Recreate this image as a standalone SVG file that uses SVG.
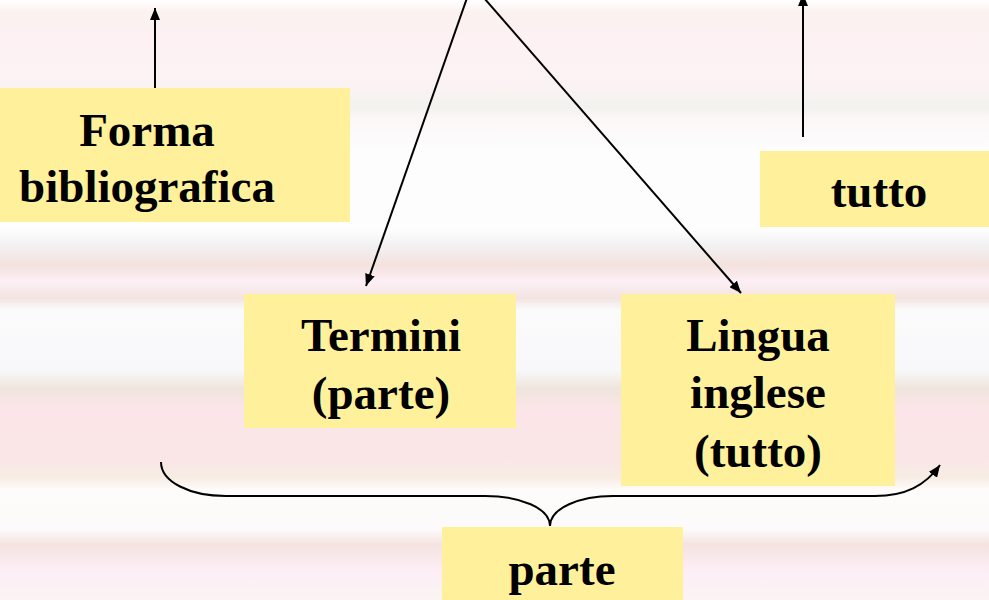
<svg xmlns="http://www.w3.org/2000/svg" width="989" height="600" viewBox="0 0 989 600">
  <style>
    .box { fill: #FFF19B; }
    .lbl { font-family: "Liberation Serif", "Times New Roman", serif; font-weight: bold; font-size: 47px; fill: #000; text-anchor: middle; }
    .edge { fill: none; stroke: #000; stroke-width: 2; }
  </style>
  <defs>
    <linearGradient id="bg" x1="0" y1="0" x2="0" y2="600" gradientUnits="userSpaceOnUse">
      <stop offset="0" stop-color="#FFFFFF"/>
      <stop offset="0.02" stop-color="#FBF2EF"/>
      <stop offset="0.067" stop-color="#FDF1F3"/>
      <stop offset="0.14" stop-color="#FBF3F3"/>
      <stop offset="0.18" stop-color="#F2F2EE"/>
      <stop offset="0.197" stop-color="#FBF7F7"/>
      <stop offset="0.25" stop-color="#FDFDFD"/>
      <stop offset="0.383" stop-color="#FDFDFD"/>
      <stop offset="0.408" stop-color="#F2F2F2"/>
      <stop offset="0.442" stop-color="#F4E2DE"/>
      <stop offset="0.47" stop-color="#FCEFF5"/>
      <stop offset="0.497" stop-color="#F3E4E1"/>
      <stop offset="0.517" stop-color="#FBFBFC"/>
      <stop offset="0.617" stop-color="#F8F8FA"/>
      <stop offset="0.647" stop-color="#EFE5DD"/>
      <stop offset="0.683" stop-color="#FBE5E8"/>
      <stop offset="0.767" stop-color="#FAE6E6"/>
      <stop offset="0.797" stop-color="#F7EDE5"/>
      <stop offset="0.817" stop-color="#FEFCFA"/>
      <stop offset="0.883" stop-color="#FCFAFA"/>
      <stop offset="0.908" stop-color="#F4E3E0"/>
      <stop offset="0.95" stop-color="#FDEEF6"/>
      <stop offset="1" stop-color="#FAF4F2"/>
    </linearGradient>
    <marker id="arr" viewBox="0 0 12 10" refX="12" refY="5" markerWidth="6" markerHeight="5" orient="auto" markerUnits="strokeWidth">
      <path d="M0,0 L12,5 L0,10 Z" fill="#000"/>
    </marker>
  </defs>
  <rect x="0" y="0" width="989" height="600" fill="url(#bg)"/>

  <g id="connectors">
    <line class="edge" x1="155" y1="88" x2="155" y2="8" marker-end="url(#arr)"/>
    <line class="edge" x1="467" y1="-2" x2="366" y2="286" marker-end="url(#arr)"/>
    <line class="edge" x1="484" y1="-2" x2="741" y2="293" marker-end="url(#arr)"/>
    <line class="edge" x1="803" y1="137" x2="803" y2="-6" marker-end="url(#arr)"/>
    <path class="edge" d="M161,462 C161,482 190,496 226,496 L485,496 C520,496 550,508 550,526 C550,508 580,496 613,496 L875,496 C905,496 925,486 940,465" marker-end="url(#arr)"/>
  </g>

  <g id="forma">
    <rect class="box" x="0" y="88" width="350" height="134"/>
    <text class="lbl" x="147" y="146">Forma</text>
    <text class="lbl" x="147" y="202">bibliografica</text>
  </g>
  <g id="tutto">
    <rect class="box" x="760" y="151" width="229" height="76"/>
    <text class="lbl" x="879" y="207">tutto</text>
  </g>
  <g id="termini">
    <rect class="box" x="244" y="294" width="272" height="134"/>
    <text class="lbl" x="381" y="351">Termini</text>
    <text class="lbl" x="381" y="409">(parte)</text>
  </g>
  <g id="lingua">
    <rect class="box" x="621" y="294" width="274" height="192"/>
    <text class="lbl" x="758" y="351">Lingua</text>
    <text class="lbl" x="758" y="408">inglese</text>
    <text class="lbl" x="758" y="467">(tutto)</text>
  </g>
  <g id="parte">
    <rect class="box" x="442" y="527" width="241" height="73"/>
    <text class="lbl" x="562" y="585">parte</text>
  </g>
</svg>
